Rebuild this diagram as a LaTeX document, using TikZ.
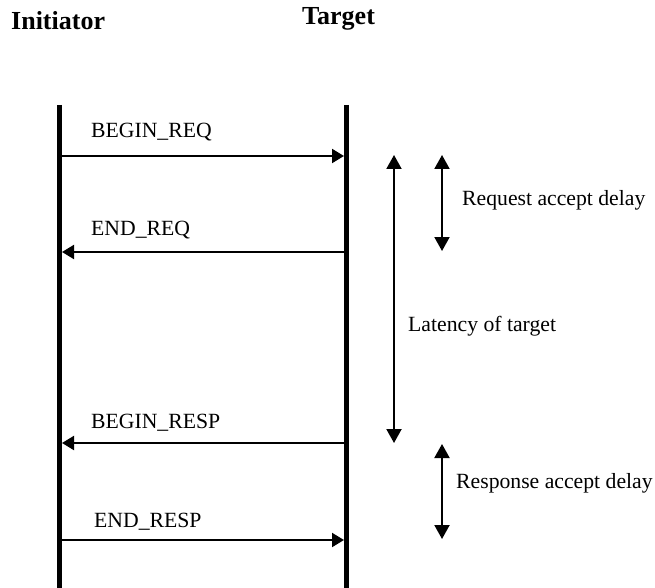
\documentclass[tikz,border=0pt]{standalone}
\usepackage{fontspec}
\setmainfont{Liberation Serif}
\usetikzlibrary{arrows.meta}
\begin{document}
\begin{tikzpicture}[x=1pt,y=-1pt,
  life/.style={line width=5pt},
  msg/.style={line width=2pt,-{Triangle[length=12pt,width=14pt]}},
  span/.style={line width=2pt,{Triangle[length=14pt,width=15pt]}-{Triangle[length=14pt,width=15pt]}},
  lbl/.style={font=\fontsize{21.7}{26}\selectfont, inner sep=0pt, anchor=base west},
  ttl/.style={font=\fontsize{26}{30}\selectfont\bfseries, inner sep=0pt, anchor=base west}]
\useasboundingbox (0,0) rectangle (655,588);
% titles
\node[ttl] (init) at (11,30) {Initiator};
\node[ttl] (targ) at (302,25) {Target};
% lifelines
\coordinate (ltop) at (59.5,105);
\coordinate (lbot) at (59.5,588);
\coordinate (rtop) at (346.5,105);
\coordinate (rbot) at (346.5,588);
\draw[life] (ltop) -- (lbot);
\draw[life] (rtop) -- (rbot);
% message endpoints
\coordinate (l1) at (62,156);  \coordinate (r1) at (344,156);
\coordinate (l2) at (62,252);  \coordinate (r2) at (344,252);
\coordinate (l3) at (62,443);  \coordinate (r3) at (344,443);
\coordinate (l4) at (62,540);  \coordinate (r4) at (344,540);
\draw[msg] (l1) -- (r1);
\draw[msg] (r2) -- (l2);
\draw[msg] (r3) -- (l3);
\draw[msg] (l4) -- (r4);
\node[lbl] (m1) at (91,138) {BEGIN\_REQ};
\node[lbl] (m2) at (91,235) {END\_REQ};
\node[lbl] (m3) at (91,428) {BEGIN\_RESP};
\node[lbl] (m4) at (94,527) {END\_RESP};
% spans
\coordinate (lat1) at (394,155); \coordinate (lat2) at (394,443);
\coordinate (rq1) at (442,155);  \coordinate (rq2) at (442,251);
\coordinate (rs1) at (442,444);  \coordinate (rs2) at (442,539);
\draw[span] (lat1) -- (lat2);
\draw[span] (rq1) -- (rq2);
\draw[span] (rs1) -- (rs2);
\node[lbl] (t1) at (462,205) {Request accept delay};
\node[lbl] (t2) at (408,331) {Latency of target};
\node[lbl] (t3) at (456,488) {Response accept delay};
\end{tikzpicture}
\end{document}
